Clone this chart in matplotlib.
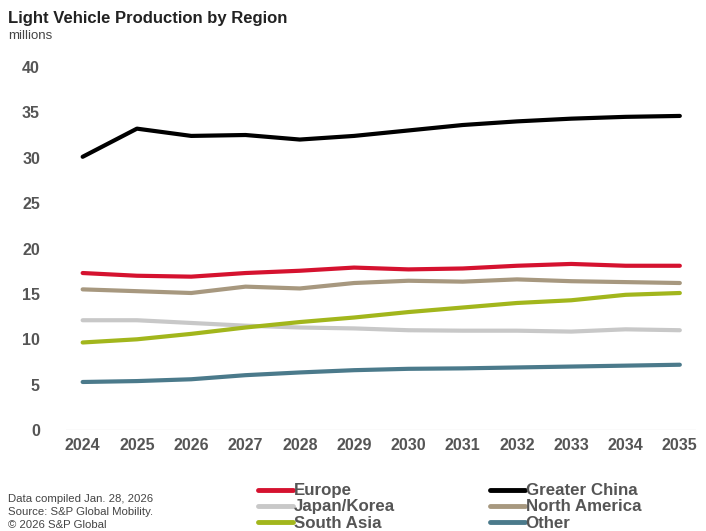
import matplotlib.pyplot as plt

plt.rcParams['font.family'] = ['Liberation Sans', 'DejaVu Sans']

years = list(range(2024, 2036))

europe = [17.3, 17.0, 16.9, 17.3, 17.55, 17.9, 17.7, 17.8, 18.1, 18.3, 18.1, 18.1]
greater_china = [30.1, 33.2, 32.4, 32.5, 32.0, 32.4, 33.0, 33.6, 34.0, 34.3, 34.5, 34.6]
japan_korea = [12.1, 12.1, 11.8, 11.5, 11.3, 11.2, 11.0, 10.95, 10.95, 10.85, 11.1, 11.0]
north_america = [15.5, 15.3, 15.1, 15.8, 15.6, 16.2, 16.45, 16.35, 16.6, 16.4, 16.3, 16.2]
south_asia = [9.65, 10.0, 10.6, 11.3, 11.9, 12.4, 13.0, 13.5, 14.0, 14.3, 14.9, 15.1]
other = [5.3, 5.4, 5.6, 6.05, 6.35, 6.6, 6.75, 6.8, 6.9, 7.0, 7.1, 7.2]

series = [
    ("Europe", europe, "#d5122f"),
    ("Japan/Korea", japan_korea, "#c8c8c8"),
    ("South Asia", south_asia, "#a2b61c"),
    ("Greater China", greater_china, "#000000"),
    ("North America", north_america, "#a7987f"),
    ("Other", other, "#4b7a8b"),
]

fig = plt.figure(figsize=(7.06, 5.31), dpi=100)
ax = fig.add_axes([0.094, 0.19, 0.892, 0.684])

handles = []
for name, vals, color in series:
    ln, = ax.plot(years, vals, color=color, lw=3, label=name, solid_capstyle='round')
    handles.append(ln)

ax.set_xlim(2023.7, 2035.3)
ax.set_ylim(0, 40)
ax.set_yticks(range(0, 41, 5))
ax.set_xticks(years)
for s in ax.spines.values():
    s.set_visible(False)
ax.axhline(0, color="#e6e6e6", lw=1, zorder=0)
ax.tick_params(length=0, labelsize=11.5, labelcolor="#555555")
ax.tick_params(axis='x', pad=6)
ax.tick_params(axis='y', pad=19)
for lbl in ax.get_xticklabels() + ax.get_yticklabels():
    lbl.set_fontweight('bold')

fig.text(0.011, 0.965, "Light Vehicle Production by Region", fontsize=12,
         fontweight='bold', color="#222222", va='center')
fig.text(0.011, 0.933, "millions", fontsize=9.5, color="#444444", va='center')

foot = "Data compiled Jan. 28, 2026\nSource: S&P Global Mobility.\n\u00a9 2026 S&P Global"
fig.text(0.011, 0.0358, foot, fontsize=8.2, color="#444444", va='center', linespacing=1.42)

# two legend columns, placed separately
for i, x0 in enumerate([258 / 706, 490 / 706]):
    leg = fig.legend(handles[3 * i:3 * i + 3], [s[0] for s in series[3 * i:3 * i + 3]],
                     loc='center left', bbox_to_anchor=(x0, 0.0452),
                     frameon=False, handlelength=2.05, handletextpad=0.05,
                     labelspacing=0.06, borderpad=0, borderaxespad=0,
                     labelcolor="#555555", prop={'weight': 'bold', 'size': 12.2})
    for h in leg.legend_handles:
        h.set_linewidth(3.5)

fig.savefig("out.png", dpi=100)
